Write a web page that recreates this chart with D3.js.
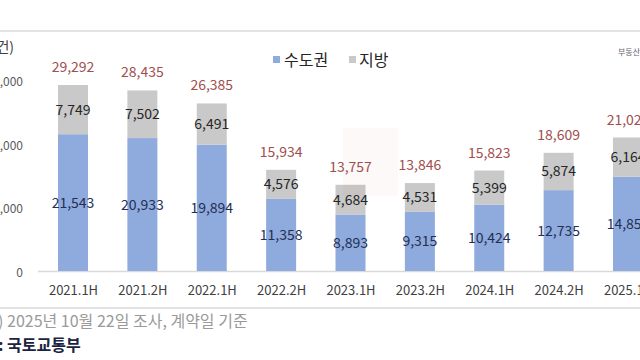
<!DOCTYPE html>
<html><head><meta charset="utf-8">
<script src="https://cdn.jsdelivr.net/npm/d3@7/dist/d3.min.js"></script>
<style>
html,body{margin:0;padding:0;background:#fff;overflow:hidden;}
svg{display:block;font-family:"Noto Sans CJK KR","Noto Sans",sans-serif;}
</style></head>
<body>
<svg id="c" width="640" height="360"></svg>
<script>
const categories = ["2021.1H","2021.2H","2022.1H","2022.2H","2023.1H","2023.2H","2024.1H","2024.2H","2025.1H"];
const capital = [21543,20933,19894,11358,8893,9315,10424,12735,14858];
const regional = [7749,7502,6491,4576,4684,4531,5399,5874,6164];
const totals = [29292,28435,26385,15934,13757,13846,15823,18609,21022];
const yTicks = [0,10000,20000,30000];
const seriesNames = ["수도권","지방"];
const colors = ["#8faadc","#c9c9c9"];

const svg = d3.select("#c");
const x = d3.scalePoint().domain(categories).range([73,628]);
const y = d3.scaleLinear().domain([0,30000]).range([271,80.5]);
const bw = 30;
const fmt = d3.format(",");

// top rule
svg.append("line").attr("x1",0).attr("x2",640).attr("y1",31).attr("y2",31)
  .attr("stroke","#e3e3e3").attr("stroke-width",2);

// unit label
svg.append("text").attr("x",14).attr("y",52).attr("text-anchor","end")
  .attr("font-size",14).attr("fill","#404040").text("(단위: 건)");

// watermark source tag
svg.append("text").attr("x",618).attr("y",55).attr("font-size",8)
  .attr("fill","#666").text("부동산R114");

// y axis labels
const yAxis = d3.axisLeft(y).tickValues(yTicks).tickFormat(fmt).tickSize(0).tickPadding(0);
const ga = svg.append("g").attr("transform","translate(23,1.5)").call(yAxis);
ga.select(".domain").remove();
ga.selectAll("text").attr("font-size",12).attr("fill","#595959")
  .attr("font-family","'Noto Sans CJK KR','Noto Sans',sans-serif");

// baseline
svg.append("line").attr("x1",38).attr("x2",640).attr("y1",y(0)+0.5).attr("y2",y(0)+0.5)
  .attr("stroke","#d9d9d9").attr("stroke-width",1.5);

// bars
const data = categories.map((c,i)=>({c, a:capital[i], b:regional[i], t:totals[i]}));
const g = svg.append("g");
g.selectAll("rect.a").data(data).join("rect").attr("class","a")
  .attr("x",d=>x(d.c)-bw/2).attr("width",bw)
  .attr("y",d=>y(d.a)).attr("height",d=>y(0)-y(d.a)).attr("fill",colors[0]);
g.selectAll("rect.b").data(data).join("rect").attr("class","b")
  .attr("x",d=>x(d.c)-bw/2).attr("width",bw)
  .attr("y",d=>y(d.a+d.b)).attr("height",d=>y(d.a)-y(d.a+d.b)).attr("fill",colors[1]);

// faint watermark block
svg.append("rect").attr("x",343).attr("y",128).attr("width",55).attr("height",68)
  .attr("fill","rgba(235,90,90,0.035)");

// segment labels
g.selectAll("text.la").data(data).join("text").attr("class","la")
  .attr("x",d=>x(d.c)).attr("y",d=>(y(0)+y(d.a))/2+5)
  .attr("text-anchor","middle").attr("font-size",14).attr("fill","#1f2f55")
  .text(d=>fmt(d.a));
g.selectAll("text.lb").data(data).join("text").attr("class","lb")
  .attr("x",d=>x(d.c)).attr("y",d=>(y(d.a)+y(d.a+d.b))/2+5)
  .attr("text-anchor","middle").attr("font-size",14).attr("fill","#262626")
  .text(d=>fmt(d.b));
g.selectAll("text.lt").data(data).join("text").attr("class","lt")
  .attr("x",d=>x(d.c)).attr("y",d=>y(d.a+d.b)-13)
  .attr("text-anchor","middle").attr("font-size",14).attr("fill","#a04e4e")
  .text(d=>fmt(d.t));

// x axis labels
const xAxis = d3.axisBottom(x).tickSize(0).tickPadding(0);
const gx = svg.append("g").attr("transform","translate(0,286)").call(xAxis);
gx.select(".domain").remove();
gx.selectAll("text").attr("font-size",13).attr("fill","#404040")
  .attr("font-family","'Noto Sans CJK KR','Noto Sans',sans-serif");

// legend
const leg = [{n:seriesNames[0],c:colors[0],sx:273,tx:284},{n:seriesNames[1],c:colors[1],sx:349,tx:359}];
leg.forEach(l=>{
  svg.append("rect").attr("x",l.sx).attr("y",56).attr("width",7).attr("height",7).attr("fill",l.c);
  svg.append("text").attr("x",l.tx).attr("y",65.5).attr("font-size",16).attr("fill","#262626").text(l.n);
});

// footer rule
svg.append("line").attr("x1",0).attr("x2",640).attr("y1",308).attr("y2",308)
  .attr("stroke","#e3e3e3").attr("stroke-width",2);

// footer notes, positioned so the visible part starts where reference shows it
function prefixed(prefix, rest, visX, yPos, opts){
  const t = svg.append("text").attr("y",yPos).attr("font-size",opts.size)
    .attr("fill",opts.fill).attr("font-weight",opts.weight||"normal");
  const p = t.append("tspan").text(prefix);
  t.append("tspan").text(rest);
  const w = p.node().getComputedTextLength();
  t.attr("x",visX - w);
}
prefixed("주) ","2025년 10월 22일 조사, 계약일 기준",7,327,{size:16,fill:"#9a9a9a"});
prefixed("자료: ","국토교통부",7,351,{size:16,fill:"#1a2342",weight:"bold"});
</script>
</body></html>
